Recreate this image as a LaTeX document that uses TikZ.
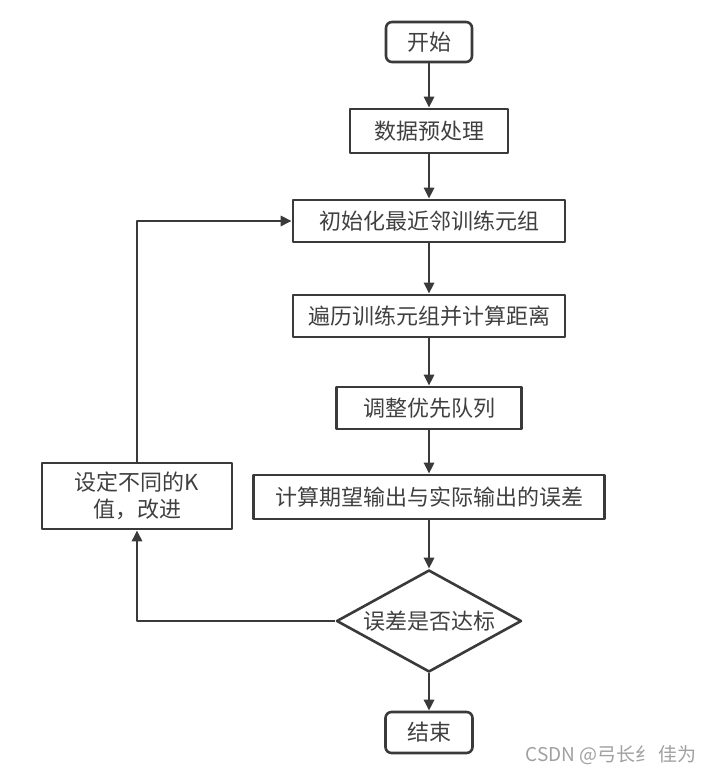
\documentclass[tikz,border=0pt]{standalone}
\usepackage{fontspec}
\setmainfont{Noto Sans CJK SC}
\usetikzlibrary{shapes.geometric,arrows.meta}
\definecolor{linegray}{HTML}{3A3A3A}
\definecolor{textgray}{HTML}{404040}
\definecolor{markgray}{HTML}{A0A0A0}
\begin{document}
\begin{tikzpicture}[x=0.5pt,y=-0.5pt,>={Triangle[length=5.5pt,width=5pt]}, font=\fontsize{11pt}{13.5pt}\selectfont, line join=round,
	box/.style={draw=linegray,line width=1.3pt,text=textgray,inner sep=0pt,minimum height=21pt},
	flow/.style={->,draw=linegray,line width=1.3pt}]
	\useasboundingbox (0,0) rectangle (711,774);
	\def\mid{429}
	\node[box,rounded corners=3pt,minimum width=43pt,minimum height=20pt] (start) at (\mid,42) {开始};
	\node[box,minimum width=79pt,minimum height=22pt] (prep) at (\mid,131) {数据预处理};
	\node[box,minimum width=136pt] (init) at (\mid,221) {初始化最近邻训练元组};
	\node[box,minimum width=136pt] (trav) at (\mid,316) {遍历训练元组并计算距离};
	\node[box,minimum width=92.5pt] (queue) at (\mid,408) {调整优先队列};
	\node[box,minimum width=175.5pt,minimum height=22pt] (err) at (\mid,497) {计算期望输出与实际输出的误差};
	\node[box,diamond,aspect=1.81,minimum width=92.5pt,minimum height=51pt] (check) at (\mid,621) {误差是否达标};
	\node[box,rounded corners=3pt,minimum width=43.5pt,minimum height=20.5pt] (stop) at (\mid,732.5) {结束};
	\node[box,align=center,minimum width=95pt,minimum height=33pt] (kval) at (137,496) {设定不同的K\\值，改进};
	% 主流程
	\draw[flow] (start) -- (prep);
	\draw[flow] (prep) -- (init);
	\draw[flow] (init) -- (trav);
	\draw[flow] (trav) -- (queue);
	\draw[flow] (queue) -- (err);
	\draw[flow] (err) -- (check);
	\draw[flow] (check) -- (stop);
	% 回路
	\draw[flow] (check.west) -| (kval.south);
	\draw[flow] (kval.north) |- (init.west);
	\node[text=markgray,font=\fontsize{9.5pt}{11pt}\selectfont] (mark) at (611,755) {CSDN @弓长纟 佳为};
\end{tikzpicture}
\end{document}
